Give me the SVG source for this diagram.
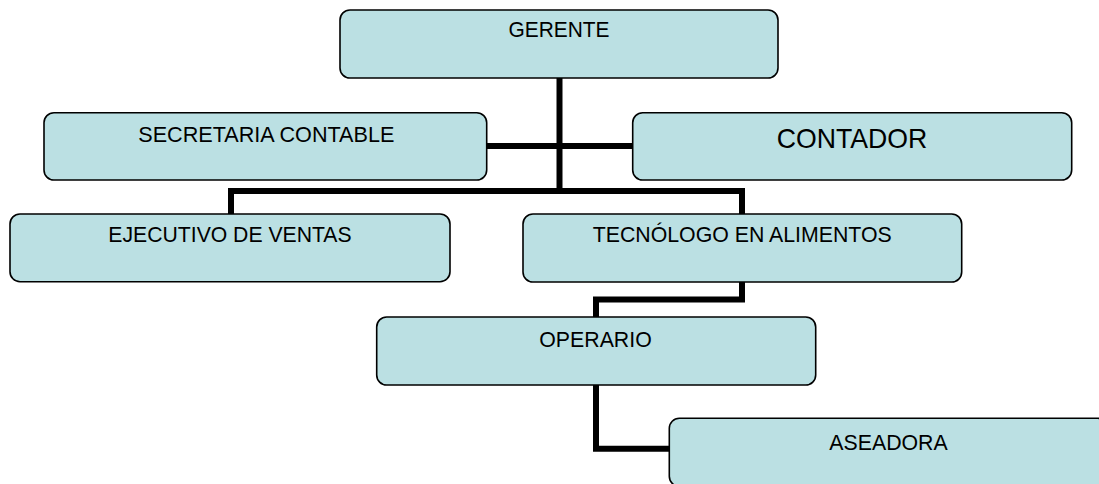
<svg xmlns="http://www.w3.org/2000/svg" width="1099" height="484" viewBox="0 0 1099 484">
<style>
.box{fill:#BBE0E3;stroke:#000;stroke-width:1.6}
.lbl{font-family:"Liberation Sans",Arial,sans-serif;font-size:22.5px;fill:#000;text-anchor:middle}
.big{font-size:28px}
.con{fill:none;stroke:#000;stroke-width:6;stroke-linejoin:miter;stroke-linecap:butt}
</style>
<rect width="1099" height="484" fill="#fff"/>
<g id="connectors">
<path class="con" d="M559.5 78 V194"/>
<path class="con" d="M487 146 H632"/>
<path class="con" d="M231 214 V191 H742 V214"/>
<path class="con" d="M742 282 V299.5 H596 V317"/>
<path class="con" d="M596 385 V448.7 H669"/>
</g>
<g id="gerente"><rect class="box" x="340" y="10" width="438" height="68" rx="10"/><text class="lbl" x="559" y="37.3" textLength="101" lengthAdjust="spacingAndGlyphs">GERENTE</text></g>
<g id="secretaria"><rect class="box" x="44" y="112.7" width="442.7" height="67.3" rx="10"/><text class="lbl" x="266.3" y="142.3" textLength="256" lengthAdjust="spacingAndGlyphs">SECRETARIA CONTABLE</text></g>
<g id="contador"><rect class="box" x="632.7" y="112.7" width="439" height="67.3" rx="10"/><text class="lbl big" x="852" y="148.3" textLength="150.6" lengthAdjust="spacingAndGlyphs">CONTADOR</text></g>
<g id="ejecutivo"><rect class="box" x="10" y="214" width="440" height="67.7" rx="10"/><text class="lbl" x="230" y="241.7" textLength="243.3" lengthAdjust="spacingAndGlyphs">EJECUTIVO DE VENTAS</text></g>
<g id="tecnologo"><rect class="box" x="523" y="214" width="438.7" height="68" rx="10"/><text class="lbl" x="742.2" y="241.7" textLength="299" lengthAdjust="spacingAndGlyphs">TECNÓLOGO EN ALIMENTOS</text></g>
<g id="operario"><rect class="box" x="376.7" y="317" width="439" height="68" rx="10"/><text class="lbl" x="595.5" y="346.7" textLength="112.4" lengthAdjust="spacingAndGlyphs">OPERARIO</text></g>
<g id="aseadora"><rect class="box" x="669.3" y="418.3" width="438.4" height="68" rx="10"/><text class="lbl" x="888.5" y="450" textLength="118.3" lengthAdjust="spacingAndGlyphs">ASEADORA</text></g>
</svg>
